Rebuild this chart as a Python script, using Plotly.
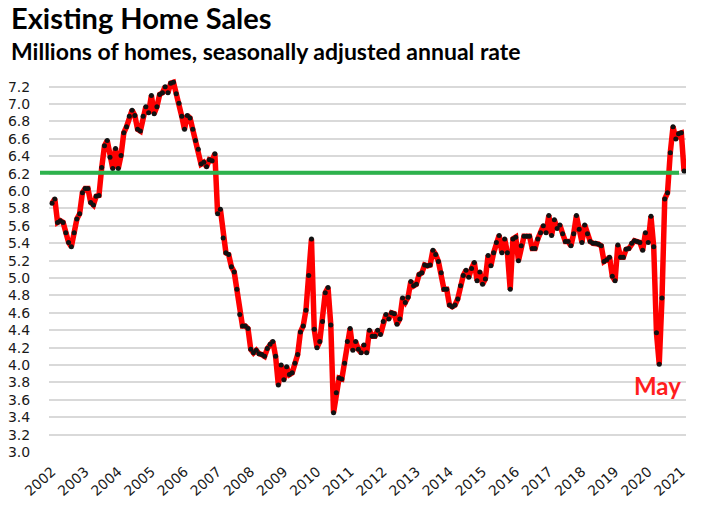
import plotly.graph_objects as go

# Existing home sales, SAAR (millions), monthly Jan 2002 .. Feb 2021
sales = [
    # 2002
    5.86, 5.91, 5.64, 5.66, 5.64, 5.52, 5.41, 5.36, 5.52, 5.68, 5.74, 5.98,
    # 2003
    6.03, 6.03, 5.87, 5.84, 5.94, 5.95, 6.27, 6.52, 6.58, 6.39, 6.26, 6.49,
    # 2004
    6.26, 6.41, 6.67, 6.74, 6.86, 6.93, 6.87, 6.71, 6.69, 6.86, 6.97, 6.90,
    # 2005
    7.10, 6.89, 6.97, 7.11, 7.13, 7.20, 7.13, 7.24, 7.25, 7.12, 7.01, 6.86,
    # 2006
    6.71, 6.87, 6.84, 6.71, 6.58, 6.48, 6.31, 6.33, 6.28, 6.36, 6.35, 6.43,
    # 2007
    5.74, 5.79, 5.46, 5.29, 5.27, 5.13, 5.07, 4.87, 4.58, 4.45, 4.45, 4.42,
    # 2008
    4.18, 4.14, 4.17, 4.13, 4.12, 4.10, 4.19, 4.24, 4.27, 4.10, 3.77, 4.00,
    # 2009
    3.83, 3.98, 3.89, 3.91, 4.02, 4.12, 4.38, 4.45, 4.63, 5.03, 5.45, 4.41,
    # 2010
    4.20, 4.27, 4.50, 4.83, 4.89, 4.46, 3.45, 3.68, 3.85, 3.84, 4.02, 4.27,
    # 2011
    4.42, 4.17, 4.27, 4.18, 4.14, 4.23, 4.14, 4.40, 4.33, 4.33, 4.40, 4.35,
    # 2012
    4.50, 4.58, 4.53, 4.60, 4.59, 4.47, 4.53, 4.77, 4.72, 4.78, 4.96, 4.91,
    # 2013
    4.93, 5.04, 5.06, 5.15, 5.14, 5.15, 5.32, 5.27, 5.19, 5.06, 4.87, 4.87,
    # 2014
    4.69, 4.67, 4.69, 4.76, 4.91, 5.03, 5.09, 5.01, 5.11, 5.18, 4.97, 5.07,
    # 2015
    4.93, 4.99, 5.26, 5.14, 5.29, 5.41, 5.49, 5.29, 5.45, 5.29, 4.87, 5.45,
    # 2016
    5.47, 5.20, 5.37, 5.48, 5.48, 5.48, 5.34, 5.34, 5.45, 5.52, 5.60, 5.52,
    # 2017
    5.72, 5.49, 5.67, 5.57, 5.61, 5.51, 5.42, 5.42, 5.37, 5.51, 5.72, 5.56,
    # 2018
    5.41, 5.61, 5.51, 5.42, 5.40, 5.40, 5.39, 5.37, 5.19, 5.21, 5.24, 5.02,
    # 2019
    4.97, 5.38, 5.24, 5.24, 5.33, 5.34, 5.40, 5.43, 5.42, 5.41, 5.32, 5.52,
    # 2020
    5.41, 5.71, 5.36, 4.37, 4.01, 4.77, 5.91, 5.98, 6.44, 6.74, 6.60, 6.66,
    # 2021
    6.67, 6.23,
]

tick_years = [2002, 2003, 2004, 2005, 2006, 2007, 2008, 2009, 2010, 2011,
              2012, 2013, 2014, 2015, 2016, 2017, 2018, 2019, 2020, 2021]

reference_level = 6.21
annotation_text = "May"

month_index = list(range(len(sales)))
tick_positions = [12 * i for i in range(len(tick_years))]

Y_MIN, Y_MAX = 3.0, 7.3
X_MIN, X_MAX = -1.1, 229.7

fig = go.Figure()
fig.add_trace(go.Scatter(
    x=month_index, y=sales, mode="lines+markers",
    line=dict(color="#FF0000", width=5.5),
    marker=dict(color="#111111", size=5),
    hoverinfo="y",
    showlegend=False,
))

W, H = 724, 509
ML, MR, MT, MB = 49, 38, 78, 57
plot_w = W - ML - MR
ref_paper_y = (reference_level - Y_MIN) / (Y_MAX - Y_MIN)
fig.add_shape(type="line", xref="paper", yref="paper",
              x0=(40 - ML) / plot_w, x1=(679 - ML) / plot_w,
              y0=ref_paper_y, y1=ref_paper_y,
              line=dict(color="#2DB24C", width=4), layer="above")

fig.add_annotation(x=month_index[-1] - 0.5, y=3.76, xref="x", yref="y",
                   text="<b>%s</b>" % annotation_text, showarrow=False,
                   xanchor="right", yanchor="middle",
                   font=dict(family="Lato", size=24, color="#FF1E1E"))

fig.add_annotation(x=(9 - ML) / plot_w, y=1.215, xref="paper", yref="paper",
                   text="<b>Existing Home Sales</b>", showarrow=False,
                   xanchor="left", yanchor="top",
                   font=dict(family="Lato", size=29, color="#000000"))
fig.add_annotation(x=(9 - ML) / plot_w, y=1.115, xref="paper", yref="paper",
                   text="<b>Millions of homes, seasonally adjusted annual rate</b>",
                   showarrow=False, xanchor="left", yanchor="top",
                   font=dict(family="Lato", size=23, color="#000000"))

fig.update_layout(
    width=W, height=H,
    margin=dict(l=ML, r=MR, t=MT, b=MB),
    paper_bgcolor="white", plot_bgcolor="white",
    font=dict(family="DejaVu Sans", size=14, color="#222222"),
    xaxis=dict(
        range=[X_MIN, X_MAX], tickmode="array",
        tickvals=tick_positions, ticktext=[str(y) for y in tick_years],
        tickangle=-42, showgrid=False, zeroline=False, showline=False,
        ticks="outside", ticklen=5, tickcolor="rgba(0,0,0,0)",
        tickfont=dict(family="DejaVu Sans", size=14, color="#1a1a1a"),
        automargin=False,
    ),
    yaxis=dict(
        range=[Y_MIN, Y_MAX], tick0=3.0, dtick=0.2, tickformat=".1f",
        showgrid=True, gridcolor="#D9D9D9", gridwidth=1.5,
        zeroline=False, showline=False,
        ticks="outside", ticklen=15, tickcolor="rgba(0,0,0,0)",
        tickfont=dict(family="DejaVu Sans", size=14, color="#1a1a1a"),
        automargin=False,
    ),
)

fig.write_html("out.html",
               config={"displayModeBar": False},
               post_script="document.body.style.margin='0px';"
                           "document.body.style.overflow='hidden';")
